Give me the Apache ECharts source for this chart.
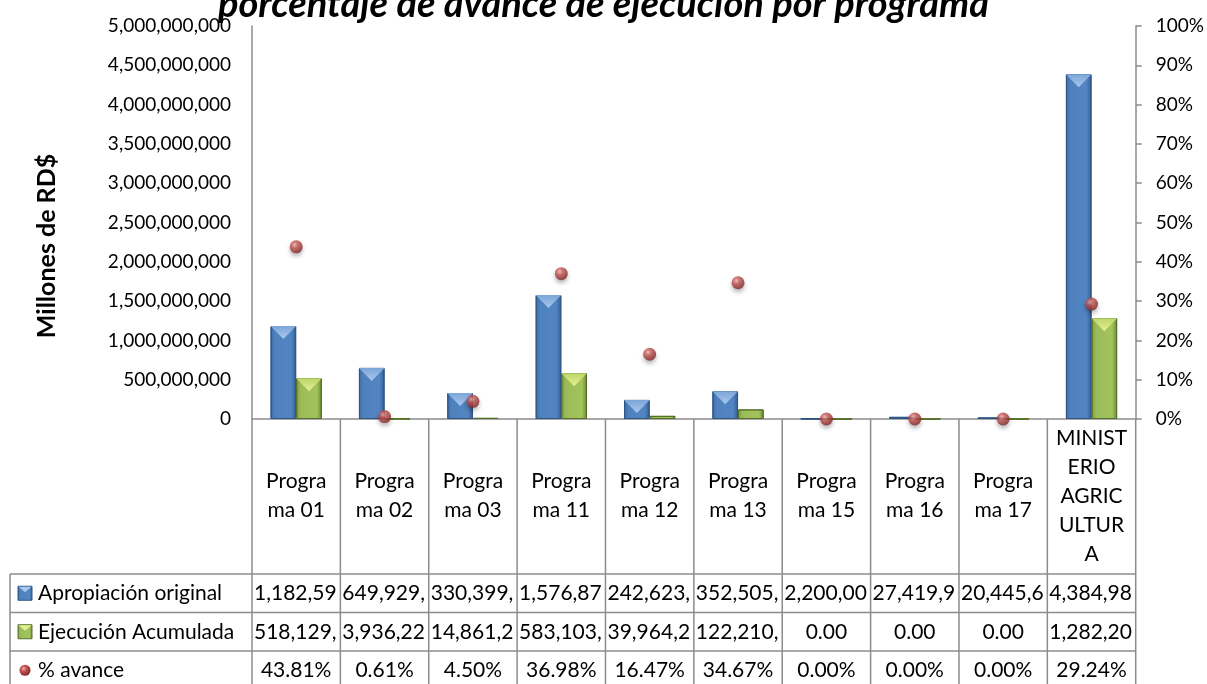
<!DOCTYPE html>
<html><head><meta charset="utf-8">
<script src="https://cdn.jsdelivr.net/npm/echarts@6/dist/echarts.min.js"></script>
<style>html,body{margin:0;padding:0;background:#fff}#main{width:1207px;height:684px}</style>
</head><body><div id="main"></div>
<script>
// ---------- data ----------
const categories = ['Programa 01','Programa 02','Programa 03','Programa 11','Programa 12','Programa 13','Programa 15','Programa 16','Programa 17','MINISTERIO AGRICULTURA'];
const categoryLabels = ['Progra\nma 01','Progra\nma 02','Progra\nma 03','Progra\nma 11','Progra\nma 12','Progra\nma 13','Progra\nma 15','Progra\nma 16','Progra\nma 17','MINIST\nERIO\nAGRIC\nULTUR\nA'];
const apropiacion = [1182590000, 649929000, 330399000, 1576870000, 242623000, 352505000, 2200000, 27419900, 20445600, 4384980000];
const ejecucion = [518129000, 3936220, 14861200, 583103000, 39964200, 122210000, 0, 0, 0, 1282200000];
const avance = [43.81, 0.61, 4.50, 36.98, 16.47, 34.67, 0.00, 0.00, 0.00, 29.24];
const seriesNames = ['Apropiación original', 'Ejecución Acumulada', '% avance'];
const titleText = 'porcentaje de avance de ejecución por programa';
const yAxisTitle = 'Millones de RD$';
const leftAxisMax = 5000000000, leftAxisStep = 500000000;
const rightAxisMax = 100, rightAxisStep = 10;

// ---------- style ----------
const FONT = 'Lato';
const GRAY = '#8C8C8C';
const blueGrad = {type:'linear', x:0, y:0, x2:1, y2:0, colorStops:[
  {offset:0, color:'#3E6EA9'}, {offset:0.18, color:'#4F81BD'}, {offset:0.8, color:'#5285C2'}, {offset:1, color:'#345E94'}]};
const greenGrad = {type:'linear', x:0, y:0, x2:1, y2:0, colorStops:[
  {offset:0, color:'#7F9E3E'}, {offset:0.18, color:'#9BBB59'}, {offset:0.8, color:'#A2C45C'}, {offset:1, color:'#6E8A34'}]};
const dotGrad = {type:'radial', x:0.38, y:0.35, r:0.7, colorStops:[
  {offset:0, color:'#F0B5B2'}, {offset:0.35, color:'#C65653'}, {offset:1, color:'#7A2321'}]};

const fmtNum = v => v.toLocaleString('en-US', {minimumFractionDigits:2, maximumFractionDigits:2});
const bevelData = arr => arr.map(v => v >= 160000000 ? v : '-');

const chart = echarts.init(document.getElementById('main'), null, {renderer:'canvas'});

const option = {
  animation: false,
  backgroundColor: '#ffffff',
  title: {
    text: titleText, left: 'center', top: -14, padding: 0,
    textStyle: {fontFamily: FONT, fontSize: 38, fontWeight: 'bold', fontStyle: 'italic', color: '#000'}
  },
  grid: {left: 252, right: 70, top: 26, bottom: 265, containLabel: false},
  xAxis: {
    type: 'category', data: categoryLabels,
    axisLine: {show: true, lineStyle: {color: GRAY, width: 1.5}},
    axisTick: {show: false},
    axisLabel: {interval: 0, margin: 77, verticalAlign: 'middle', lineHeight: 29, fontFamily: FONT, fontSize: 21, color: '#000', align: 'center'},
    splitLine: {show: false}
  },
  yAxis: [{
    type: 'value', min: 0, max: leftAxisMax, interval: leftAxisStep,
    axisLine: {show: true, lineStyle: {color: GRAY, width: 1.5}},
    axisTick: {show: false},
    splitLine: {show: false},
    axisLabel: {margin: 21, fontFamily: FONT, fontSize: 19, color: '#000',
      formatter: v => v.toLocaleString('en-US')}
  }, {
    type: 'value', min: 0, max: rightAxisMax, interval: rightAxisStep, position: 'right',
    axisLine: {show: true, lineStyle: {color: GRAY, width: 1.5}},
    axisTick: {show: true, inside: false, length: 6, lineStyle: {color: GRAY, width: 1.5}},
    splitLine: {show: false},
    axisLabel: {margin: 20, fontFamily: FONT, fontSize: 19, color: '#000', formatter: '{value}%'}
  }],
  series: [
    {name: seriesNames[0], type: 'bar', data: apropiacion, barGap: '0%', barCategoryGap: '42%',
      itemStyle: {color: blueGrad, borderColor: '#2F5585', borderWidth: 1}, z: 2},
    {name: seriesNames[1], type: 'bar', data: ejecucion, barGap: '0%', barCategoryGap: '42%',
      itemStyle: {color: greenGrad, borderColor: '#55702A', borderWidth: 1}, z: 2},
    {name: 'bevel1', type: 'pictorialBar', data: bevelData(apropiacion), barGap: '0%', barCategoryGap: '42%',
      symbol: 'triangle', symbolRotate: 180, symbolPosition: 'end', symbolSize: ['100%', 13],
      itemStyle: {color: {type:'linear', x:0, y:0, x2:0, y2:1, colorStops:[{offset:0, color:'#A9C8EE'}, {offset:1, color:'#7CA5D8'}]}}, z: 3, silent: true},
    {name: 'bevel2', type: 'pictorialBar', data: bevelData(ejecucion), barGap: '0%', barCategoryGap: '42%',
      symbol: 'triangle', symbolRotate: 180, symbolPosition: 'end', symbolSize: ['100%', 13],
      itemStyle: {color: {type:'linear', x:0, y:0, x2:0, y2:1, colorStops:[{offset:0, color:'#E4F08F'}, {offset:1, color:'#BCD66A'}]}}, z: 3, silent: true},
    {name: seriesNames[2], type: 'scatter', yAxisIndex: 1, data: avance, symbolSize: 13,
      itemStyle: {color: dotGrad, shadowBlur: 4, shadowColor: 'rgba(0,0,0,0.35)', shadowOffsetY: 3}, z: 5}
  ]
};
chart.setOption(option);

// ---------- data table under the axis, positioned from the axis scales ----------
(function buildTable(){
  const c0 = chart.convertToPixel({xAxisIndex: 0}, 0);
  const c1 = chart.convertToPixel({xAxisIndex: 0}, 1);
  const band = c1 - c0;
  const xL = c0 - band / 2;
  const xR = xL + band * categories.length;
  const y0 = chart.convertToPixel({yAxisIndex: 0}, 0);
  const labelAreaH = 155, rowH = 38.5, tableLeft = 10;
  const tTop = y0 + labelAreaH;
  const tBot = tTop + rowH * 3;
  const els = [];
  const line = (x1, y1, x2, y2) => els.push({type: 'line', silent: true, z: 10,
    shape: {x1, y1, x2, y2}, style: {stroke: GRAY, lineWidth: 1.5}});
  for (let i = 0; i <= categories.length; i++) line(xL + i * band, y0, xL + i * band, tBot);
  for (let r = 0; r <= 3; r++) line(tableLeft, tTop + r * rowH, xR, tTop + r * rowH);
  line(tableLeft, tTop, tableLeft, tBot);
  const txt = (s, x, y, align) => els.push({type: 'text', silent: true, z: 11, x, y,
    style: {text: s, fill: '#000', fontFamily: FONT, fontSize: 21, align, verticalAlign: 'middle'}});
  const rows = [
    apropiacion.map(fmtNum),
    ejecucion.map(fmtNum),
    avance.map(v => v.toFixed(2) + '%')
  ];
  rows.forEach((vals, r) => {
    const yc = tTop + rowH * (r + 0.5);
    txt(seriesNames[r], 38, yc, 'left');
    vals.forEach((s, i) => {
      if (s.length > 8) txt(s.slice(0, 8), xL + i * band + 2, yc, 'left');
      else txt(s, xL + (i + 0.5) * band, yc, 'center');
    });
  });
  // legend keys
  const y1c = tTop + rowH * 0.5, y2c = tTop + rowH * 1.5, y3c = tTop + rowH * 2.5;
  els.push({type: 'rect', silent: true, z: 11, shape: {x: 18, y: y1c - 7, width: 14, height: 14},
    style: {fill: blueGrad, stroke: '#2F5585', lineWidth: 1}});
  els.push({type: 'polygon', silent: true, z: 12, shape: {points: [[18.5, y1c - 6.5], [31.5, y1c - 6.5], [25, y1c - 1]]},
    style: {fill: '#A9C8EE'}});
  els.push({type: 'rect', silent: true, z: 11, shape: {x: 18, y: y2c - 7, width: 14, height: 14},
    style: {fill: greenGrad, stroke: '#55702A', lineWidth: 1}});
  els.push({type: 'polygon', silent: true, z: 12, shape: {points: [[18.5, y2c - 6.5], [31.5, y2c - 6.5], [25, y2c - 1]]},
    style: {fill: '#E4F08F'}});
  els.push({type: 'circle', silent: true, z: 11, shape: {cx: 25, cy: y3c, r: 5.5},
    style: {fill: dotGrad}});
  // y axis title
  els.push({type: 'text', silent: true, z: 11, x: 47, y: 246, rotation: Math.PI / 2,
    style: {text: yAxisTitle, fill: '#000', fontFamily: FONT, fontSize: 25, fontWeight: 'bold', align: 'center', verticalAlign: 'middle'}});
  chart.setOption({graphic: els});
})();
</script>
</body></html>
